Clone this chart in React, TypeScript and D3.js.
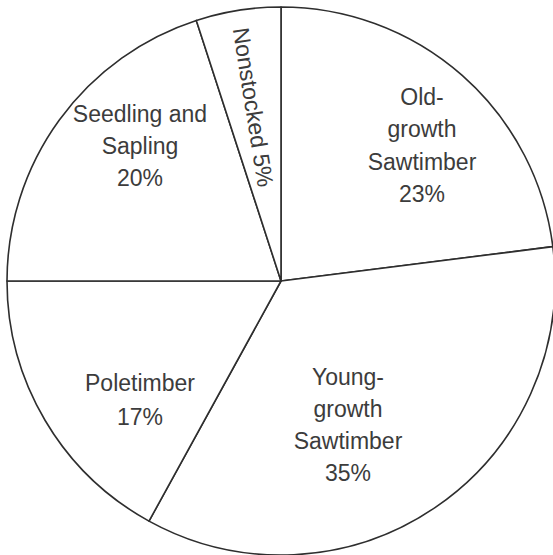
import React from "react";
import * as d3 from "d3";

// Forest area by stand-size class, percent of total
const categories = [
  "Old-growth Sawtimber",
  "Young-growth Sawtimber",
  "Poletimber",
  "Seedling and Sapling",
  "Nonstocked",
];
const percents = [23, 35, 17, 20, 5];

// Text lines for each slice label (the percent is appended as the last line)
const labelLines = [
  ["Old-", "growth", "Sawtimber"],
  ["Young-", "growth", "Sawtimber"],
  ["Poletimber"],
  ["Seedling and", "Sapling"],
  ["Nonstocked"],
];

const W = 553;
const H = 555;
const CX = 281;
const CY = 281;
const R = 274;
const FONT = "'Liberation Sans', Arial, Helvetica, sans-serif";
const INK = "#2e2e2e";
const TEXT = "#3c3c3c";

// Label anchors relative to the pie centre: x of the centred column, y of the first baseline, line step
const labelLayout = [
  { dx: 141, dy: -176, step: 32.3 },
  { dx: 67, dy: 104, step: 32 },
  { dx: -141, dy: 110, step: 34 },
  { dx: -141, dy: -159, step: 32 },
];

export default function App() {
  const data = categories.map((c, i) => ({ name: c, value: percents[i], lines: labelLines[i] }));
  const pie = d3
    .pie<(typeof data)[number]>()
    .sort(null)
    .value((d) => d.value)
    .startAngle(0)
    .endAngle(2 * Math.PI);
  const arcs = pie(data);
  const arc = d3.arc<d3.PieArcDatum<(typeof data)[number]>>().innerRadius(0).outerRadius(R);

  // Nonstocked: narrow slice, label set along its bisector
  const last = arcs[arcs.length - 1];
  const mid = (last.startAngle + last.endAngle) / 2;
  const nr = 176;
  const nx = Math.sin(mid) * nr;
  const ny = -Math.cos(mid) * nr;
  const rot = (mid * 180) / Math.PI - 270;

  return (
    <svg
      width={W}
      height={H}
      style={{ position: "absolute", left: 0, top: 0, background: "#fff" }}
    >
      <g transform={`translate(${CX},${CY})`}>
        {arcs.map((a, i) => (
          <path
            key={i}
            d={arc(a) || ""}
            fill="#fff"
            stroke={INK}
            strokeWidth={1.6}
            strokeLinejoin="round"
          />
        ))}
        {arcs.slice(0, 4).map((a, i) => {
          const L = labelLayout[i];
          const lines = [...a.data.lines, `${a.data.value}%`];
          return (
            <text
              key={i}
              x={L.dx}
              y={L.dy}
              textAnchor="middle"
              fontFamily={FONT}
              fontSize={23}
              fill={TEXT}
            >
              {lines.map((t, j) => (
                <tspan key={j} x={L.dx} y={L.dy + j * L.step}>
                  {t}
                </tspan>
              ))}
            </text>
          );
        })}
        <text
          transform={`translate(${nx},${ny}) rotate(${rot})`}
          textAnchor="middle"
          dy="0.36em"
          fontFamily={FONT}
          fontSize={23}
          fill={TEXT}
        >
          {`${last.data.lines[0]} ${last.data.value}%`}
        </text>
      </g>
    </svg>
  );
}
